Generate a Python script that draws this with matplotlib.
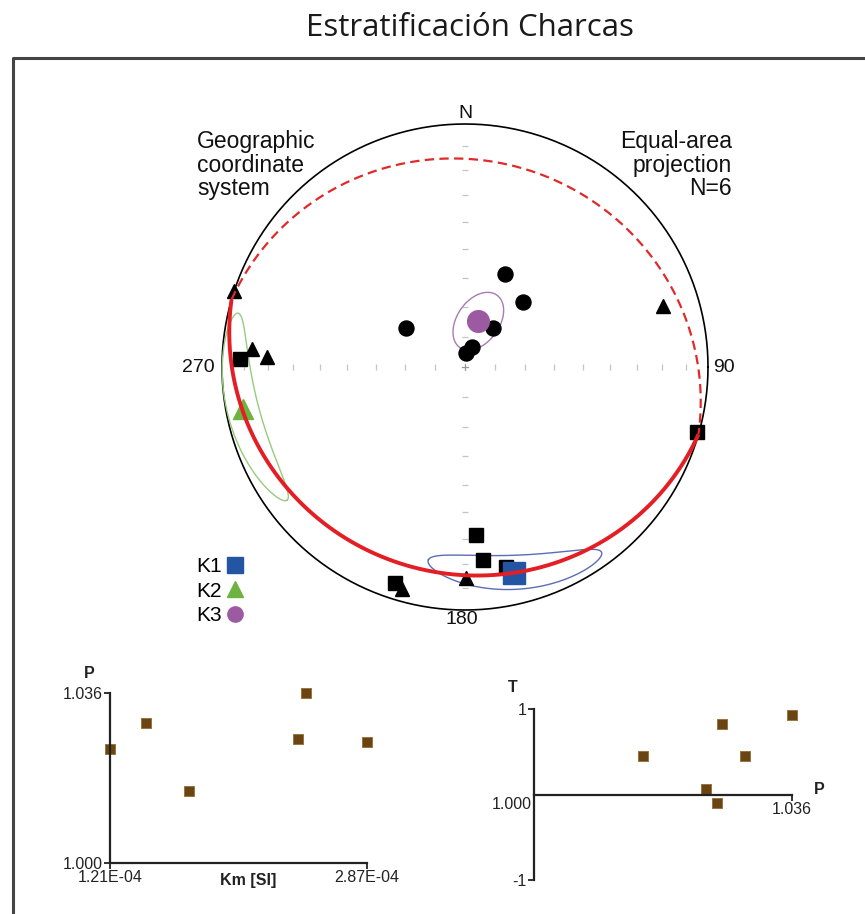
import numpy as np
import matplotlib
matplotlib.use('Agg')
import matplotlib.pyplot as plt
from matplotlib.lines import Line2D

W, H = 865, 914

# principal susceptibility axes of the six samples (trend, plunge, degrees)
k1_trend = [176.3, 174.6, 168.4, 198.0, 105.6, 272.0]
k1_plunge = [31.3, 21.3, 17.2, 7.3, 0.9, 8.1]
k2_trend = [288.2, 274.7, 272.8, 72.9, 179.7, 195.9]
k2_plunge = [0.0, 13.0, 19.7, 15.7, 14.1, 5.5]
k3_trend = [23.3, 41.8, 303.7, 35.8, 18.3, 4.0]
k3_plunge = [55.8, 60.5, 66.2, 73.8, 82.9, 85.2]

# mean tensor axes + confidence ellipses (semi-angles and rotation, degrees)
mean_names = ['K1', 'K2', 'K3']
mean_trend = [166.5, 259.2, 16.1]
mean_plunge = [14.0, 7.9, 74.0]
conf_major = [24.0, 25.0, 10.8]
conf_minor = [7.0, 7.0, 7.0]
conf_rot = [11.0, -8.0, 47.0]

# scalar parameters per sample
km = [1.210e-4, 1.443e-4, 1.723e-4, 2.424e-4, 2.476e-4, 2.870e-4]
p_j = [1.0240, 1.0295, 1.0152, 1.0263, 1.0360, 1.0256]
t_shape = [0.066, 0.445, 0.445, 0.822, 0.930, -0.097]

plt.rcParams['font.family'] = ['Liberation Sans', 'DejaVu Sans']


def to_vec(trend, plunge):
    t = np.radians(np.asarray(trend, float))
    p = np.radians(np.asarray(plunge, float))
    return np.stack([np.cos(p) * np.cos(t), np.cos(p) * np.sin(t),
                     np.sin(p)], axis=-1)


def project(v):
    # equal-area (Schmidt) net; upper-hemisphere points drawn at own azimuth
    v = np.atleast_2d(v)
    s = 1.0 / np.sqrt(1.0 + np.abs(v[:, 2]))
    return v[:, 1] * s, v[:, 0] * s


def cone(mean, e1, e2, a, b, rot, n=400):
    rot = np.radians(rot)
    A = np.cos(rot) * e1 + np.sin(rot) * e2
    B = -np.sin(rot) * e1 + np.cos(rot) * e2
    phi = np.linspace(0, 2 * np.pi, n)
    a, b = np.radians(a), np.radians(b)
    rho = a * b / np.sqrt((b * np.cos(phi)) ** 2 + (a * np.sin(phi)) ** 2)
    u = np.cos(phi)[:, None] * A + np.sin(phi)[:, None] * B
    v = np.cos(rho)[:, None] * mean + np.sin(rho)[:, None] * u
    v[v[:, 2] < 0] *= -1
    x, y = project(v)
    cut = np.where(np.hypot(np.diff(x), np.diff(y)) > 0.5)[0] + 1
    return np.insert(x, cut, np.nan), np.insert(y, cut, np.nan)


def fx(x):
    return x / W


def fy(y):
    return 1 - y / H


fig = plt.figure(figsize=(W / 100, H / 100), dpi=100)

# frame
fig.add_artist(Line2D([fx(13), fx(13), 1.0], [0.0, fy(58), fy(58)],
                      transform=fig.transFigure, lw=2.2, color='#444444'))
fig.text(fx(470), fy(28), 'Estratificación Charcas', ha='center',
         va='center', fontsize=22.5, family='Open Sans', color='#1a1a1a')

# ---- stereonet
CX, CY, RP, L = 465, 367, 243, 1.1
ax_s = fig.add_axes([fx(CX - L * RP), fy(CY + L * RP),
                     2 * L * RP / W, 2 * L * RP / H])
ax_s.set_xlim(-L, L)
ax_s.set_ylim(-L, L)
ax_s.axis('off')

t = np.linspace(0, 2 * np.pi, 721)
ax_s.plot(np.cos(t), np.sin(t), color='k', lw=1.2, zorder=2)

tick_r = np.sqrt(1 - np.sin(np.radians(np.arange(10, 90, 10))))
tl = 0.012
tick_r = np.concatenate([tick_r, -tick_r])
ax_s.vlines(tick_r, -tl, tl, color='#c4c4c4', lw=0.9, zorder=1)
ax_s.hlines(tick_r, -tl, tl, color='#c4c4c4', lw=0.9, zorder=1)
ax_s.plot([-tl, tl], [0, 0], color='#999999', lw=0.9, zorder=1)
ax_s.plot([0, 0], [-tl, tl], color='#999999', lw=0.9, zorder=1)

# orthonormal mean axes
mv = to_vec(mean_trend, mean_plunge)
e3 = mv[2] / np.linalg.norm(mv[2])
e1 = mv[0] - np.dot(mv[0], e3) * e3
e1 /= np.linalg.norm(e1)
e2 = np.cross(e3, e1)
if np.dot(e2, mv[1]) < 0:
    e2 = -e2
axes3 = [e1, e2, e3]

ell_cols = ['#5b6db4', '#98cb7c', '#a87bb1']
others = [(1, 2), (0, 2), (0, 1)]
for i in range(3):
    ex, ey = cone(axes3[i], axes3[others[i][0]], axes3[others[i][1]],
                  conf_major[i], conf_minor[i], conf_rot[i])
    ax_s.plot(ex, ey, color=ell_cols[i], lw=1.0, zorder=2)

# samples
for tr, pl, mk, ms in ((k1_trend, k1_plunge, 's', 9.4),
                       (k2_trend, k2_plunge, '^', 10.6),
                       (k3_trend, k3_plunge, 'o', 10.8)):
    x, y = project(to_vec(tr, pl))
    ax_s.plot(x, y, mk, color='k', ms=ms, ls='', zorder=3)

mean_cols = ['#2455a4', '#6db33f', '#9c5aa3']
mean_mk = [('s', 15.6), ('^', 15.0), ('o', 15.6)]
for i in range(3):
    x, y = project(mv[i])
    ax_s.plot(x, y, mean_mk[i][0], color=mean_cols[i], ms=mean_mk[i][1],
              ls='', zorder=4)

# plane normal to mean K3 (magnetic foliation)
alpha = np.arctan2(e2[2], e1[2])
for lo, hi, sty in ((-90, 90, '-'), (90, 270, '--')):
    th = alpha + np.radians(np.linspace(lo, hi, 300))
    v = np.cos(th)[:, None] * e1 + np.sin(th)[:, None] * e2
    gx, gy = project(v)
    if sty == '-':
        ax_s.plot(gx, gy, color='#e31e24', lw=2.8, zorder=5,
                  solid_capstyle='butt')
    else:
        ax_s.plot(gx, gy, color='#e02a2a', lw=1.6, ls='--',
                  dashes=(4.2, 2.4), zorder=5)

handles = [Line2D([], [], ls='', marker=mean_mk[i][0], color=mean_cols[i],
                  ms=11) for i in range(3)]
fig.legend(handles, mean_names, markerfirst=False, frameon=False,
           loc='upper left', bbox_to_anchor=(fx(196), fy(557)),
           fontsize=15, handlelength=0.8, handletextpad=0.25,
           labelspacing=0.27, borderpad=0, borderaxespad=0)

lab = dict(fontsize=14, color='#111111', va='center')
fig.text(fx(465), fy(113), 'N', ha='center', **lab)
fig.text(fx(215), fy(368), '270', ha='right', **lab)
fig.text(fx(713), fy(368), '90', ha='left', **lab)
fig.text(fx(462), fy(620), '180', ha='center', **lab)
for k, s in enumerate(['Geographic', 'coordinate', 'system']):
    fig.text(fx(197), fy(141.7 + 23.6 * k), s, ha='left', va='center',
             fontsize=16.5, color='#111111')
for k, s in enumerate(['Equal-area', 'projection', 'N=6']):
    fig.text(fx(732), fy(141.7 + 23.6 * k), s, ha='right', va='center',
             fontsize=16.5, color='#111111')

# ---- P vs Km and T vs P
brown, brown_e = '#6a4511', '#9a7340'


def style(ax):
    ax.patch.set_visible(False)
    for s in ('top', 'right'):
        ax.spines[s].set_visible(False)
    for s in ('left', 'bottom'):
        ax.spines[s].set_linewidth(1.6)
        ax.spines[s].set_color('#222222')
    ax.tick_params(length=4, width=1.3, labelsize=11.5, pad=1.5,
                   color='#222222', labelcolor='#222222')


ax_p = fig.add_axes([fx(110), fy(862.7), 256.7 / W, 170 / H])
style(ax_p)
ax_p.plot(km, p_j, 's', ms=7.2, mfc=brown, mec=brown_e, mew=0.7,
          ls='', clip_on=False)
ax_p.set_xlim(min(km), max(km))
ax_p.set_ylim(1.0, max(p_j))
ax_p.set_xticks([min(km), max(km)], ['1.21E-04', '2.87E-04'])
ax_p.set_yticks([1.0, max(p_j)], ['1.000', '1.036'])
fig.text(fx(89), fy(674), 'P', ha='center', va='center', fontsize=11.5,
         weight='bold', color='#222222')
fig.text(fx(248), fy(880), 'Km [SI]', ha='center', va='center',
         fontsize=11.5, weight='bold', color='#222222')

ax_t = fig.add_axes([fx(534), fy(880), 257.7 / W, 171 / H])
style(ax_t)
ax_t.spines['bottom'].set_position(('data', 0))
ax_t.plot(p_j, t_shape, 's', ms=7.2, mfc=brown, mec=brown_e, mew=0.7,
          ls='', clip_on=False)
ax_t.set_xlim(1.0, max(p_j))
ax_t.set_ylim(-1, 1)
ax_t.set_xticks([max(p_j)], ['1.036'])
ax_t.set_yticks([-1, 1], ['-1', '1'])
ax_t.annotate('1.000', xy=(1.0, 0), xytext=(-1.5, -1.5),
              textcoords='offset points', ha='right', va='top',
              fontsize=11.5, color='#222222')
fig.text(fx(513), fy(688), 'T', ha='center', va='center', fontsize=11.5,
         weight='bold', color='#222222')
fig.text(fx(819), fy(790), 'P', ha='center', va='center', fontsize=11.5,
         weight='bold', color='#222222')

fig.savefig('out.png', dpi=100)
